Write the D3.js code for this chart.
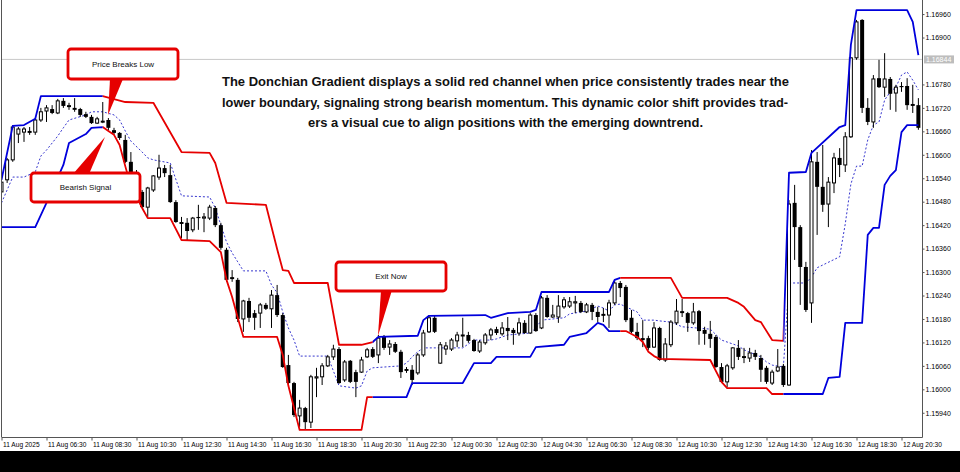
<!DOCTYPE html>
<html><head><meta charset="utf-8">
<script src="https://cdn.jsdelivr.net/npm/d3@7/dist/d3.min.js"></script>
<style>html,body{margin:0;padding:0;background:#fff}svg{display:block}</style>
</head><body><svg id="c" width="960" height="472"></svg>
<script>
// ---------------- DATA (EURUSD M15) ----------------
const tickBars = [0,8,16,24,32,40,48,56,64,72,80,88,96,104,112,120,128,136,144,152,160];
const tickLabels = ["11 Aug 2025","11 Aug 06:30","11 Aug 08:30","11 Aug 10:30","11 Aug 12:30","11 Aug 14:30","11 Aug 16:30","11 Aug 18:30","11 Aug 20:30","11 Aug 22:30","12 Aug 00:30","12 Aug 02:30","12 Aug 04:30","12 Aug 06:30","12 Aug 08:30","12 Aug 10:30","12 Aug 12:30","12 Aug 14:30","12 Aug 16:30","12 Aug 18:30","12 Aug 20:30"];
const priceTicks = [1.16960,1.16900,1.16780,1.16720,1.16660,1.16600,1.16540,1.16480,1.16420,1.16360,1.16300,1.16240,1.16180,1.16120,1.16060,1.16000,1.15940];
const bidPrice = 1.16844;

const open = [1.16505,1.16536,1.16587,1.16653,1.16658,1.16661,1.16658,1.16689,1.16712,1.16717,
1.16707,1.16738,1.16727,1.16720,1.16717,1.16704,1.16697,1.16681,1.16684,1.16689,
1.16663,1.16656,1.16638,1.16582,1.16556,1.16505,1.16466,1.16510,1.16543,1.16566,
1.16548,1.16479,1.16428,1.16426,1.16408,1.16441,1.16438,1.16438,1.16464,1.16420,
1.16357,1.16287,1.16280,1.16180,1.16226,1.16195,1.16195,1.16216,1.16206,1.16241,
1.16190,1.16062,1.16016,1.15932,1.15952,1.15916,1.16029,1.16032,1.16060,1.16083,
1.16103,1.16024,1.16073,1.16044,1.16044,1.16083,1.16103,1.16088,1.16134,1.16108,
1.16116,1.16096,1.16052,1.16050,1.16042,1.16088,1.16147,1.16183,1.16067,1.16103,
1.16103,1.16124,1.16137,1.16139,1.16126,1.16098,1.16119,1.16139,1.16154,1.16142,
1.16157,1.16152,1.16144,1.16170,1.16144,1.16190,1.16157,1.16234,1.16185,1.16185,
1.16211,1.16213,1.16221,1.16221,1.16198,1.16216,1.16198,1.16193,1.16190,1.16221,
1.16272,1.16262,1.16183,1.16147,1.16131,1.16131,1.16108,1.16157,1.16075,1.16114,
1.16170,1.16200,1.16195,1.16170,1.16200,1.16152,1.16142,1.16134,1.16057,1.16019,
1.16055,1.16106,1.16085,1.16080,1.16093,1.16080,1.16055,1.16016,1.16047,1.16060,
1.16011,1.16477,1.16415,1.16313,1.16221,1.16582,1.16518,1.16474,1.16528,1.16592,
1.16574,1.16646,1.16848,1.16945,1.16720,1.16684,1.16796,1.16773,1.16794,1.16758,
1.16776,1.16776,1.16730,1.16727];
const high = [1.16541,1.16592,1.16676,1.16671,1.16671,1.16671,1.16694,1.16720,1.16727,1.16727,
1.16743,1.16745,1.16733,1.16745,1.16720,1.16710,1.16702,1.16697,1.16735,1.16694,
1.16669,1.16658,1.16651,1.16607,1.16561,1.16510,1.16518,1.16548,1.16600,1.16574,
1.16574,1.16484,1.16441,1.16438,1.16441,1.16472,1.16451,1.16472,1.16469,1.16426,
1.16362,1.16305,1.16285,1.16229,1.16234,1.16203,1.16221,1.16221,1.16254,1.16267,
1.16195,1.16088,1.16019,1.15973,1.15955,1.16037,1.16055,1.16067,1.16088,1.16114,
1.16108,1.16075,1.16075,1.16050,1.16083,1.16106,1.16108,1.16139,1.16139,1.16126,
1.16121,1.16101,1.16057,1.16062,1.16093,1.16152,1.16190,1.16188,1.16121,1.16121,
1.16131,1.16147,1.16183,1.16147,1.16129,1.16126,1.16144,1.16157,1.16160,1.16172,
1.16185,1.16157,1.16183,1.16177,1.16195,1.16195,1.16239,1.16241,1.16216,1.16241,
1.16236,1.16236,1.16239,1.16226,1.16221,1.16221,1.16211,1.16208,1.16229,1.16280,
1.16277,1.16267,1.16203,1.16170,1.16177,1.16137,1.16172,1.16160,1.16131,1.16177,
1.16231,1.16231,1.16198,1.16221,1.16203,1.16160,1.16175,1.16139,1.16067,1.16065,
1.16108,1.16126,1.16106,1.16106,1.16101,1.16088,1.16060,1.16050,1.16103,1.16065,
1.16484,1.16523,1.16420,1.16326,1.16612,1.16607,1.16625,1.16543,1.16605,1.16617,
1.16658,1.16850,1.16945,1.16947,1.16745,1.16804,1.16843,1.16860,1.16799,1.16779,
1.16786,1.16796,1.16779,1.16745];
const low = [1.16497,1.16528,1.16582,1.16630,1.16633,1.16651,1.16651,1.16684,1.16684,1.16704,
1.16704,1.16720,1.16715,1.16710,1.16697,1.16694,1.16679,1.16679,1.16681,1.16663,
1.16651,1.16638,1.16579,1.16553,1.16497,1.16464,1.16441,1.16505,1.16536,1.16543,
1.16477,1.16426,1.16387,1.16382,1.16402,1.16408,1.16402,1.16433,1.16415,1.16357,
1.16275,1.16275,1.16172,1.16147,1.16172,1.16152,1.16157,1.16203,1.16157,1.16185,
1.16055,1.16011,1.15929,1.15904,1.15896,1.15901,1.15980,1.16011,1.16057,1.16075,
1.16014,1.16019,1.16016,1.15980,1.16042,1.16080,1.16080,1.16067,1.16101,1.16088,
1.16093,1.16029,1.16042,1.16011,1.16037,1.16083,1.16144,1.16144,1.16065,1.16088,
1.16098,1.16108,1.16108,1.16119,1.16096,1.16093,1.16114,1.16126,1.16139,1.16137,
1.16126,1.16114,1.16137,1.16142,1.16142,1.16147,1.16154,1.16183,1.16183,1.16170,
1.16206,1.16208,1.16195,1.16195,1.16195,1.16177,1.16172,1.16172,1.16157,1.16216,
1.16236,1.16172,1.16144,1.16126,1.16108,1.16101,1.16106,1.16073,1.16070,1.16108,
1.16165,1.16185,1.16147,1.16165,1.16114,1.16114,1.16106,1.16055,1.16016,1.16006,
1.16050,1.16075,1.16067,1.16070,1.16075,1.16019,1.16014,1.16011,1.16044,1.16006,
1.16009,1.16331,1.16216,1.16198,1.16170,1.16395,1.16454,1.16415,1.16502,1.16543,
1.16556,1.16643,1.16843,1.16707,1.16676,1.16669,1.16771,1.16748,1.16715,1.16710,
1.16761,1.16715,1.16707,1.16664];
const close = [1.16530,1.16587,1.16671,1.16666,1.16666,1.16656,1.16689,1.16710,1.16720,1.16707,
1.16738,1.16725,1.16722,1.16715,1.16702,1.16697,1.16681,1.16692,1.16686,1.16669,
1.16656,1.16643,1.16582,1.16556,1.16510,1.16466,1.16515,1.16546,1.16566,1.16553,
1.16479,1.16428,1.16423,1.16405,1.16438,1.16438,1.16441,1.16466,1.16420,1.16362,
1.16280,1.16282,1.16180,1.16226,1.16183,1.16183,1.16216,1.16206,1.16241,1.16190,
1.16057,1.16016,1.15934,1.15952,1.15916,1.16032,1.16032,1.16060,1.16083,1.16103,
1.16016,1.16070,1.16019,1.16019,1.16075,1.16101,1.16083,1.16131,1.16106,1.16116,
1.16096,1.16044,1.16047,1.16024,1.16088,1.16144,1.16183,1.16147,1.16114,1.16111,
1.16126,1.16139,1.16139,1.16124,1.16098,1.16121,1.16139,1.16152,1.16144,1.16157,
1.16149,1.16144,1.16170,1.16144,1.16190,1.16149,1.16234,1.16185,1.16190,1.16213,
1.16229,1.16224,1.16224,1.16198,1.16216,1.16198,1.16185,1.16188,1.16221,1.16272,
1.16259,1.16177,1.16147,1.16131,1.16126,1.16106,1.16157,1.16075,1.16116,1.16172,
1.16200,1.16195,1.16170,1.16198,1.16149,1.16142,1.16129,1.16057,1.16019,1.16060,
1.16106,1.16083,1.16080,1.16093,1.16083,1.16050,1.16019,1.16044,1.16057,1.16011,
1.16474,1.16415,1.16313,1.16203,1.16582,1.16518,1.16472,1.16530,1.16592,1.16574,
1.16646,1.16848,1.16940,1.16720,1.16684,1.16794,1.16773,1.16794,1.16756,1.16773,
1.16773,1.16727,1.16725,1.16669];

// Donchian channel lines, read as [bar, price] vertices
const upperBand = [[0,1.16536],[2,1.16674],[4,1.16676],[6,1.16692],[7,1.16750],[18,1.16750],[22,1.16735],[27,1.16733],[32,1.16607],[37,1.16605],[38,1.16579],[40,1.16477],[47,1.16472],[49,1.16359],[50,1.16305],[51,1.16303],[52,1.16272],[58,1.16272],[60,1.16114],[64,1.16114],[66,1.16121],[67,1.16134],[74,1.16137],[75,1.16177],[76,1.16188],[86,1.16190],[87,1.16183],[90,1.16195],[94,1.16198],[95,1.16203],[96,1.16249],[108,1.16249],[109,1.16280],[110,1.16285],[119,1.16285],[121,1.16234],[129,1.16234],[131,1.16221],[132,1.16211],[134,1.16177],[135,1.16172],[137,1.16126],[139,1.16124],[140,1.16554],[143,1.16556],[144,1.16605],[149,1.16671],[150,1.16676],[151,1.16881],[152,1.16970],[161,1.16970],[162,1.16940],[163,1.16855]];
const lowerBand = [[0,1.16415],[6,1.16415],[8,1.16477],[11,1.16574],[12,1.16630],[15,1.16653],[16,1.16669],[18,1.16671],[19,1.16661],[20,1.16651],[21,1.16625],[22,1.16571],[23,1.16520],[25,1.16464],[26,1.16438],[30,1.16438],[32,1.16382],[37,1.16379],[39,1.16351],[40,1.16280],[41,1.16236],[42,1.16183],[43,1.16134],[49,1.16134],[50,1.16088],[51,1.16009],[53,1.15896],[64,1.15896],[65,1.15980],[72,1.15980],[73,1.16016],[82,1.16016],[84,1.16067],[87,1.16067],[88,1.16083],[94,1.16083],[95,1.16108],[100,1.16114],[101,1.16134],[104,1.16144],[106,1.16170],[107,1.16165],[108,1.16149],[111,1.16149],[113,1.16134],[114,1.16121],[115,1.16096],[116,1.16085],[117,1.16078],[126,1.16075],[128,1.16019],[129,1.16003],[136,1.16003],[137,1.15988],[146,1.15988],[147,1.16029],[149,1.16032],[150,1.16170],[153,1.16170],[154,1.16395],[155,1.16413],[156,1.16413],[157,1.16523],[158,1.16546],[159,1.16561],[160,1.16658],[161,1.16676],[163,1.16676]];
const middleBand = [[0,1.16477],[2,1.16543],[4,1.16543],[6,1.16556],[7,1.16597],[8,1.16612],[10,1.16648],[11,1.16669],[12,1.16689],[15,1.16702],[16,1.16710],[18,1.16710],[20,1.16702],[21,1.16689],[22,1.16661],[23,1.16635],[25,1.16607],[26,1.16592],[27,1.16587],[30,1.16579],[32,1.16495],[37,1.16492],[38,1.16464],[40,1.16377],[41,1.16349],[42,1.16326],[43,1.16303],[47,1.16303],[48,1.16267],[49,1.16247],[50,1.16198],[51,1.16157],[52,1.16126],[53,1.16085],[58,1.16085],[60,1.16009],[63,1.16003],[64,1.16009],[65,1.16047],[66,1.16055],[71,1.16060],[72,1.16067],[73,1.16083],[74,1.16096],[75,1.16106],[82,1.16106],[84,1.16126],[87,1.16126],[88,1.16129],[90,1.16139],[94,1.16144],[95,1.16157],[96,1.16177],[100,1.16183],[101,1.16193],[104,1.16200],[106,1.16213],[107,1.16208],[108,1.16200],[109,1.16216],[110,1.16218],[111,1.16211],[113,1.16198],[114,1.16177],[116,1.16177],[117,1.16175],[119,1.16172],[121,1.16160],[126,1.16154],[128,1.16126],[129,1.16121],[131,1.16111],[132,1.16101],[135,1.16083],[136,1.16070],[137,1.16062],[139,1.16057],[140,1.16272],[143,1.16272],[144,1.16287],[145,1.16311],[149,1.16339],[150,1.16423],[151,1.16525],[152,1.16571],[153,1.16571],[154,1.16638],[155,1.16676],[156,1.16684],[157,1.16740],[158,1.16761],[159,1.16773],[160,1.16804],[161,1.16812],[162,1.16791],[163,1.16766]];

// colour regimes of the channel (bar where each regime starts)
const regimeStart = [0,18,66,110,139];
const regimeTrend = ["up","down","up","down","up"];

// annotation texts
const noteLines = [
 "The Donchian Gradient displays a solid red channel when price consistently trades near the",
 "lower boundary, signaling strong bearish momentum. This dynamic color shift provides trad-",
 "ers a visual cue to align positions with the emerging downtrend."
];
const callouts = ["Price Breaks Low","Bearish Signal","Exit Now"];

// ---------------- DRAWING ----------------
const svg = d3.select("#c");
const plotR = 922, plotB = 437;
const RED = "#e60000", BLUE = "#0000dc";
const trendColor = {up: BLUE, down: RED};

const x = d3.scaleLinear().domain([0,160]).range([1.5,901.5]);
const y = d3.scaleLinear().domain([1.15878,1.16996]).range([plotB,0]);

svg.append("rect").attr("width",960).attr("height",472).attr("fill","#fff");

const defs = svg.append("defs");
defs.append("clipPath").attr("id","plotclip").append("rect")
  .attr("x",1).attr("y",0).attr("width",plotR-1).attr("height",plotB);
regimeStart.forEach((s,k)=>{
  const x0 = k===0 ? 0 : x(s);
  const x1 = k===regimeStart.length-1 ? plotR : x(regimeStart[k+1]);
  defs.append("clipPath").attr("id","rg"+k).append("rect")
    .attr("x",x0).attr("y",0).attr("width",x1-x0).attr("height",plotB);
});

const plot = svg.append("g").attr("clip-path","url(#plotclip)");

// bid line
plot.append("line").attr("x1",0).attr("x2",plotR)
  .attr("y1",y(bidPrice)).attr("y2",y(bidPrice))
  .attr("stroke","#c8c8c8").attr("stroke-width",1);

const line = d3.line().x(d=>x(d[0])).y(d=>y(d[1]));

// middle dashed line
plot.append("path").attr("d",line(middleBand)).attr("fill","none")
  .attr("stroke","#2020c8").attr("stroke-width",0.9).attr("stroke-dasharray","2,2");

// candles
const idx = d3.range(open.length);
const cg = plot.append("g");
cg.selectAll("line.wick").data(idx).join("line").attr("class","wick")
  .attr("x1",i=>x(i)).attr("x2",i=>x(i))
  .attr("y1",i=>y(high[i])).attr("y2",i=>y(low[i]))
  .attr("stroke","#000").attr("stroke-width",1);
cg.selectAll("rect.body").data(idx).join("rect").attr("class","body")
  .attr("x",i=> close[i]>=open[i] ? x(i)-1.5 : x(i)-2)
  .attr("width",i=> close[i]>=open[i] ? 3 : 4)
  .attr("y",i=>y(Math.max(open[i],close[i])))
  .attr("height",i=>Math.max(1,Math.abs(y(open[i])-y(close[i]))))
  .attr("fill",i=> close[i]>=open[i] ? "#fff" : "#000")
  .attr("stroke",i=> close[i]>=open[i] ? "#000" : "none")
  .attr("stroke-width",1);

// channel lines coloured by regime
[upperBand, lowerBand].forEach(band=>{
  regimeStart.forEach((s,k)=>{
    plot.append("g").attr("clip-path","url(#rg"+k+")")
      .append("path").attr("d",line(band)).attr("fill","none")
      .attr("stroke",trendColor[regimeTrend[k]]).attr("stroke-width",1.8)
      .attr("stroke-linejoin","round");
  });
});

// frame
const frame = svg.append("g").attr("stroke","#555").attr("stroke-width",1);
frame.append("line").attr("x1",1.5).attr("x2",1.5).attr("y1",0).attr("y2",plotB);
frame.append("line").attr("x1",plotR+0.5).attr("x2",plotR+0.5).attr("y1",0).attr("y2",plotB+0.5);
frame.append("line").attr("x1",1.5).attr("x2",plotR+0.5).attr("y1",plotB+0.5).attr("y2",plotB+0.5);

// x axis
const xa = svg.append("g").attr("transform",`translate(0,${plotB+0.5})`)
  .call(d3.axisBottom(x).tickValues(tickBars).tickFormat((d,i)=>tickLabels[i]).tickSize(3).tickPadding(2));
xa.select(".domain").remove();
xa.selectAll("line").attr("stroke","#555");
xa.selectAll("text").attr("text-anchor","start").attr("x",1)
  .attr("font-family","'Liberation Sans',Arial,sans-serif").attr("font-size","6.6px").attr("fill","#000");

// y axis
const ya = svg.append("g").attr("transform",`translate(${plotR+0.5},0)`)
  .call(d3.axisRight(y).tickValues(priceTicks).tickFormat(d3.format(".5f")).tickSize(2).tickPadding(1));
ya.select(".domain").remove();
ya.selectAll("line").attr("stroke","#555");
ya.selectAll("text").attr("font-family","'Liberation Sans',Arial,sans-serif")
  .attr("font-size","7px").attr("fill","#000");

// bid price label
const by = y(bidPrice);
svg.append("rect").attr("x",plotR+2).attr("y",by-4).attr("width",30).attr("height",8).attr("fill","#bdbdbd");
svg.append("text").attr("x",plotR+4).attr("y",by).attr("dy","0.33em")
  .attr("font-family","'Liberation Sans',Arial,sans-serif").attr("font-size","7px").attr("fill","#fff")
  .text(d3.format(".5f")(bidPrice));

// black band under the chart
svg.append("rect").attr("x",0).attr("y",451).attr("width",960).attr("height",21).attr("fill","#000");

// annotation paragraph
const noteLayout = [{x:222,len:567,y:86},{x:222,len:566,y:106.5},{x:308,len:395,y:127}];
noteLines.forEach((t,k)=>{
  svg.append("text").attr("x",noteLayout[k].x).attr("y",noteLayout[k].y)
    .attr("textLength",noteLayout[k].len).attr("lengthAdjust","spacingAndGlyphs")
    .attr("font-family","'Liberation Sans',Arial,sans-serif").attr("font-weight","bold")
    .attr("font-size","13.5px").attr("fill","#111").text(t);
});

// callout boxes with pointers
const boxes = [
  {x:68,y:49,w:110,h:30,ptr:[[110,79],[123,79],[108,115]]},
  {x:31,y:173,w:109,h:29,ptr:[[73,174],[89,174],[105,137]]},
  {x:336,y:262,w:110,h:29,ptr:[[381,290],[392,290],[378,336]]}
];
boxes.forEach((b,k)=>{
  svg.append("polygon").attr("points",b.ptr.map(p=>p.join(",")).join(" ")).attr("fill",RED);
  svg.append("rect").attr("x",b.x).attr("y",b.y).attr("width",b.w).attr("height",b.h)
    .attr("rx",3).attr("fill","#fff").attr("stroke",RED).attr("stroke-width",2.8);
  svg.append("text").attr("x",b.x+b.w/2).attr("y",b.y+b.h/2).attr("dy","0.35em")
    .attr("text-anchor","middle").attr("font-family","'Liberation Sans',Arial,sans-serif")
    .attr("font-size","8px").attr("fill","#111").text(callouts[k]);
});
</script>
</body></html>
